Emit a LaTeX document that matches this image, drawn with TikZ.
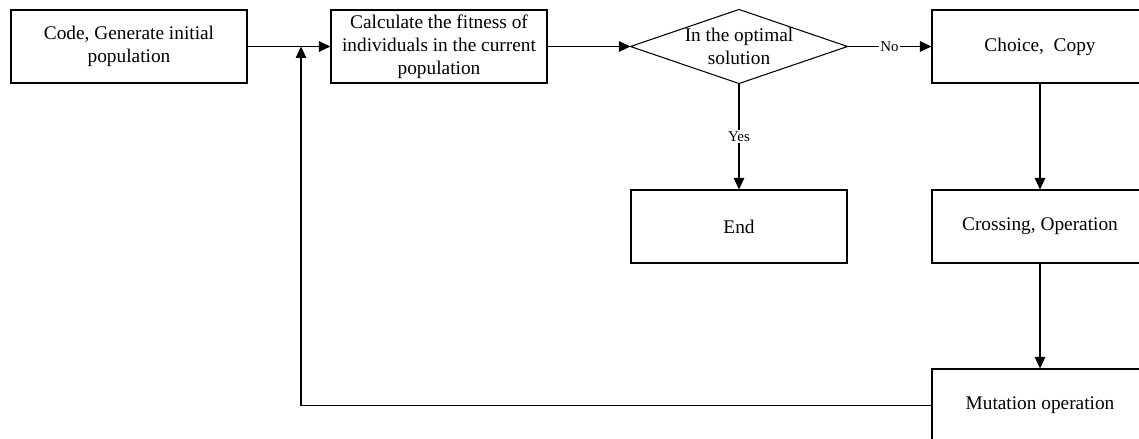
\documentclass[tikz,border=0pt]{standalone}
\usepackage{fontspec}
\setmainfont{Liberation Serif}
\usetikzlibrary{arrows.meta}
\begin{document}
\begin{tikzpicture}[
      box/.style={draw,line width=0.6pt,minimum width=4.32cm,minimum height=1.46cm,inner sep=1.5pt,align=center,font=\fontsize{11}{13.2}\selectfont},
      link/.style={line width=0.6pt,-{Triangle[length=2.3mm,width=2.1mm]}},
      tag/.style={fill=white,inner sep=1pt,font=\fontsize{8.5}{9}\selectfont}]
      \useasboundingbox (0,0) rectangle (22.78,-8.78);
      %nodi
      \node[box,minimum width=4.72cm] (code) at (2.58,-0.93) {Code, Generate initial\\population};
      \node[box] (calc) at (8.78,-0.93) {Calculate the fitness of\\individuals in the current\\population};
      \node[box,draw=none] (opt) at (14.78,-0.93) {In the optimal\\solution};
      \draw[line width=0.6pt] (opt.west) -- (opt.north) -- (opt.east) -- (opt.south) -- cycle;
      \node[box] (choice) at (20.80,-0.93) {Choice,\ \ Copy};
      \node[box] (end) at (14.78,-4.53) {End};
      \node[box] (cross) at (20.80,-4.53) {Crossing, Operation};
      \node[box] (mut) at (20.80,-8.11) {Mutation operation};
      \coordinate (join) at (6.02,-0.93);
      %frecce
      \draw[link] (code) -- (calc);
      \draw[link] (calc) -- (opt.west);
      \draw[link] (opt.east) -- (choice) node[tag,midway] {No};
      \draw[link] (opt.south) -- (end) node[tag,midway] {Yes};
      \draw[link] (choice) -- (cross);
      \draw[link] (cross) -- (mut);
      %ritorno
      \draw[link] (mut.west) -| (join);
    \end{tikzpicture}
\end{document}
